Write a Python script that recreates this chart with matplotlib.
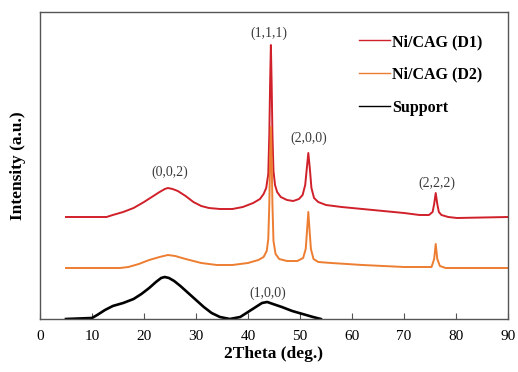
import matplotlib
matplotlib.use('Agg')
import matplotlib.pyplot as plt

# XRD patterns (x in 2theta deg, y in arbitrary units)
d1_x = [5, 12.8, 14, 16, 18, 20, 21.5, 23, 24, 24.6, 25.5, 26.5, 28, 29.5, 31, 32.5, 34.6,
        37, 39, 41, 42.3, 43.0, 43.5, 43.9, 44.1, 44.25, 44.4, 44.55, 44.7, 44.9, 45.2,
        45.6, 46.3, 47.5, 48.7, 49.8, 50.5, 51.0, 51.3, 51.6, 51.9, 52.2, 52.7, 53.5, 55,
        58, 62, 66, 70, 73, 74.8, 75.5, 75.8, 76.1, 76.4, 76.7, 77.2, 78.5, 80.2, 90]
d1_y = [102, 102, 104, 107, 111, 117, 122, 127, 130, 131, 130, 128, 123, 117, 113, 111, 110,
        110, 112, 116, 120, 125, 131, 145, 185, 235, 274, 235, 185, 148, 134,
        127, 122, 119, 118, 120, 124, 134, 150, 166, 150, 131, 121, 117, 114,
        112, 110, 108, 106, 104, 104, 107, 115, 126, 115, 107, 104, 102, 101, 102]

d2_x = [5, 15.4, 17, 19, 21, 23, 24.6, 26, 28, 31, 34, 37, 40, 42, 43.0, 43.6, 43.9, 44.1,
        44.25, 44.4, 44.55, 44.7, 44.9, 45.3, 46, 47.5, 49.5, 50.6, 51.1, 51.35, 51.6,
        51.85, 52.1, 52.6, 53.5, 56, 62, 70, 75.3, 75.8, 76.1, 76.4, 76.9, 78, 80.2, 90]
d2_y = [51, 51, 52, 55, 59, 62, 64, 63, 60, 56, 54, 54, 56, 59, 62, 68, 80, 115,
        160, 192, 160, 115, 78, 65, 60, 58, 58, 61, 70, 88, 107,
        88, 70, 60, 57, 56, 54, 52, 52, 60, 75, 60, 53, 51, 51, 51]

sup_x = [5, 10, 11, 12.5, 14, 16, 18, 19.5, 21, 22.3, 23.3, 24, 24.8, 25.8, 27, 28.5, 30,
         31.5, 33, 34.6, 36.5, 38.5, 40, 41.5, 42.7, 43.7, 44.8, 46.5, 48.5, 50.5, 52.5, 54]
sup_y = [0, 1, 4, 9, 13, 16, 20, 25, 31, 37, 41, 42, 41, 38, 33, 26, 19,
         12, 6, 2, 0, 2, 7, 12, 16, 17, 15, 12, 8, 5, 2, 0]

peak_labels = ['(0,0,2)', '(1,1,1)', '(2,0,0)', '(2,2,2)', '(1,0,0)']
peak_x = [25, 44, 51.7, 76.3, 43.8]
peak_y = [147, 286, 181, 136, 26]

plt.rcParams['font.family'] = ['Liberation Serif', 'DejaVu Serif']

fig = plt.figure(figsize=(5.18, 3.72), dpi=100)
ax = fig.add_axes([0.0772, 0.1425, 0.9035, 0.8252])

ax.plot(d1_x, d1_y, color='#d0202a', lw=1.4, label='Ni/CAG (D1)')
ax.plot(d2_x, d2_y, color='#ed7d31', lw=1.4, label='Ni/CAG (D2)')
ax.plot(sup_x, sup_y, color='black', lw=1.9, label='Support')

for lab, px, py in zip(peak_labels, peak_x, peak_y):
    ax.text(px, py, lab, ha='center', va='center', fontsize=10, color='#3a3a3a')

ax.set_xlim(0, 90)
ax.set_ylim(0, 307)
ax.set_xticks(range(0, 91, 10))
ax.set_yticks([])
ax.tick_params(axis='x', direction='in', length=4, labelsize=11, pad=8, color='#555555')
for sp in ax.spines.values():
    sp.set_color('#555555')
    sp.set_linewidth(1.0)

ax.set_xlabel('2Theta (deg.)', fontsize=12.5, fontweight='bold', labelpad=2)
ax.set_ylabel('Intensity (a.u.)', fontsize=12.5, fontweight='bold', labelpad=10)

leg = ax.legend(loc='upper left', bbox_to_anchor=(0.651, 0.975), frameon=False,
                prop={'weight': 'bold', 'size': 11.5}, handlelength=1.95,
                handletextpad=0.1, labelspacing=1.05)
for h in leg.get_lines():
    h.set_linewidth(1.0)

fig.savefig('out.png', dpi=100)
